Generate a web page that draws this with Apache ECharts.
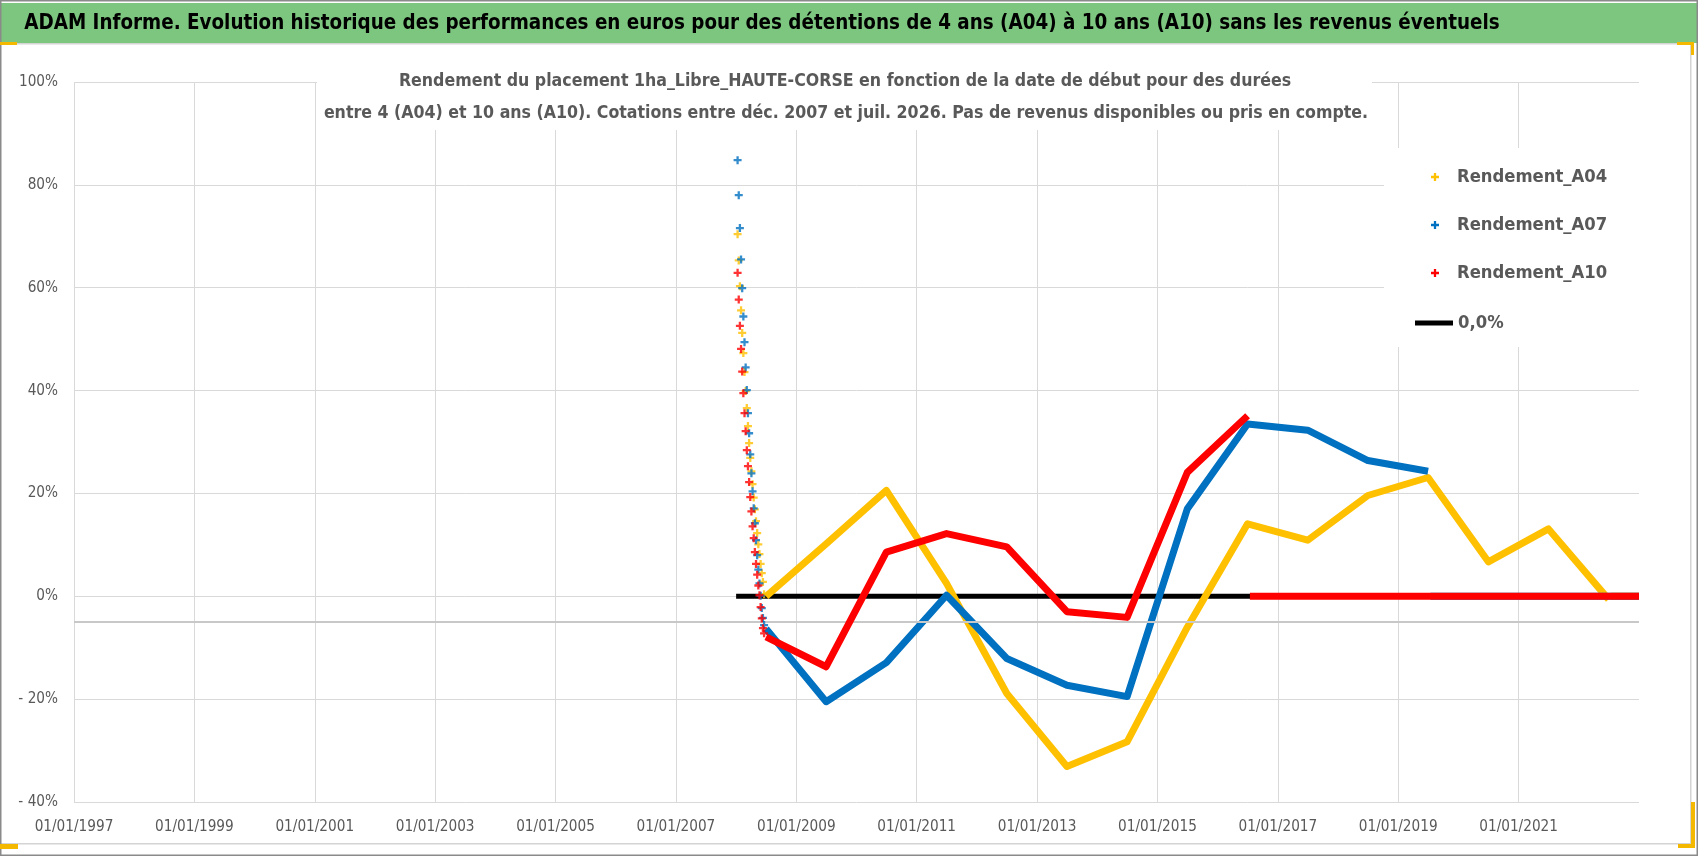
<!DOCTYPE html>
<html>
<head>
<meta charset="utf-8">
<script src="https://cdn.jsdelivr.net/npm/echarts@6/dist/echarts.min.js"></script>
<style>
html, body { margin: 0; padding: 0; background: #fff; }
#chart { width: 1698px; height: 856px; }
</style>
</head>
<body>
<div id="chart"></div>
<script>
var chart = echarts.init(document.getElementById('chart'));

// --- data (values in %) ---
var baseYear = 1997;
var endDate = '2023-01-01';
var xTickYears = 2;

// early-2008 start dates, one point per week
var spikeDates = [
    '2008-01-10', '2008-01-17', '2008-01-24', '2008-01-31', '2008-02-07', '2008-02-14',
    '2008-02-21', '2008-02-28', '2008-03-06', '2008-03-13', '2008-03-20', '2008-03-27',
    '2008-04-03', '2008-04-10', '2008-04-17', '2008-04-24', '2008-05-01', '2008-05-08',
    '2008-05-15', '2008-05-22', '2008-05-29', '2008-06-05', '2008-06-12', '2008-06-19'
];
var spikeA04 = [70.4, 65.3, 60.3, 55.6, 51.2, 47.3, 43.6, 39.9, 36.6, 33.1, 29.8, 26.9,
    24.3, 21.8, 19.2, 16.9, 14.6, 12.3, 10.1, 8.2, 6.3, 4.5, 2.8, 0.4];
var spikeA07 = [84.8, 78.0, 71.6, 65.5, 59.9, 54.4, 49.4, 44.5, 40.1, 35.6, 31.7, 27.6,
    23.9, 20.4, 17.1, 14.2, 10.9, 8.0, 5.2, 2.5, 0.1, -2.3, -4.2, -5.6];
var spikeA10 = [62.9, 57.7, 52.6, 48.1, 43.7, 39.5, 35.6, 32.1, 28.4, 25.3, 22.2, 19.3,
    16.5, 13.6, 11.3, 8.6, 6.3, 4.2, 2.1, 0.2, -2.1, -4.3, -6.2, -7.2];

// yearly start dates after the spike
var yearDates = ['2008-07-01', '2009-07-01', '2010-07-01', '2011-07-01', '2012-07-01',
    '2013-07-01', '2014-07-01', '2015-07-01', '2016-07-01', '2017-07-01', '2018-07-01',
    '2019-07-01', '2020-07-01', '2021-07-01', '2022-07-01'];
var rendA04 = [0.0, 10.2, 20.6, 2.5, -18.9, -33.1, -28.3, -6.0, 14.1, 10.9, 19.6, 23.1, 6.7, 13.1, -0.6];
var rendA07 = [-6.3, -20.5, -12.9, 0.2, -12.1, -17.3, -19.5, 17.0, 33.5, 32.3, 26.4, 24.3];
var rendA10 = [-7.9, -13.7, 8.6, 12.2, 9.6, -3.0, -4.1, 24.1, 35.1];

// after the last available end date the yield is shown as 0
var zeroFromA04 = '2022-07-15';
var zeroFromA07 = '2019-07-15';
var zeroFromA10 = '2016-07-15';

var refLineDates = ['2008-01-01', endDate];
var refLineValue = 0;
var axisCross = -5;

var names = ['Rendement_A04', 'Rendement_A07', 'Rendement_A10', '0,0%'];
var colors = ['#ffc000', '#0070c0', '#ff0000', '#000000'];

// --- helpers ---
function toX(s) {
    var p = s.split('-').map(Number);
    var t0 = Date.UTC(p[0], 0, 1), t1 = Date.UTC(p[0] + 1, 0, 1);
    return p[0] - baseYear + (Date.UTC(p[0], p[1] - 1, p[2]) - t0) / (t1 - t0);
}
function spikeData(vals) {
    return vals.map(function (v, i) { return [toX(spikeDates[i]), v]; });
}
function lineData(vals, zeroFrom) {
    var d = vals.map(function (v, i) { return [toX(yearDates[i]), v]; });
    d.push([toX(zeroFrom), '-']);
    d.push([toX(zeroFrom), 0]);
    d.push([toX(endDate), 0]);
    return d;
}
var fam = "'Liberation Sans Narrow', 'DejaVu Sans Condensed', Roboto, sans-serif";
var ctx = document.createElement('canvas').getContext('2d');
function fit(text, weight, target) {
    ctx.font = weight + ' 100px ' + fam;
    return Math.round(1000 * target / ctx.measureText(text).width) / 10;
}

var titleText = 'ADAM Informe. Evolution historique des performances en euros pour des détentions de 4 ans (A04) à 10 ans (A10) sans les revenus éventuels';
var sub1 = 'Rendement du placement 1ha_Libre_HAUTE-CORSE en fonction de la date de début pour des durées';
var sub2 = 'entre 4 (A04) et 10 ans (A10). Cotations entre déc. 2007 et juil. 2026. Pas de revenus disponibles ou pris en compte.';

var titleSize = fit(titleText, 'bold', 1474);
var subSize = fit(sub2, 'bold', 1042);
var legendSize = fit('Rendement_A04', 'bold', 150);
var axisSize = fit('01/01/1997', 'normal', 79);

var plus = 'path://M3,0H5.4V3H8.4V5.4H5.4V8.4H3V5.4H0V3H3Z';
var yellowHandle = '#f5b800';

function spikeSeries(i, vals) {
    return {
        name: names[i], type: 'scatter', data: spikeData(vals),
        symbol: plus, symbolSize: 8, z: 6 + i,
        itemStyle: { color: colors[i] }, silent: true
    };
}
function lineSeries(i, vals, zeroFrom) {
    return {
        name: names[i], type: 'line', data: lineData(vals, zeroFrom),
        showSymbol: false, symbol: 'none', connectNulls: false, z: 3 + i,
        lineStyle: { color: colors[i], width: 7, cap: 'butt', join: 'round' },
        itemStyle: { color: colors[i] }, silent: true
    };
}

var option = {
    animation: false,
    grid: { left: 74, right: 59, top: 82, bottom: 54 },
    xAxis: {
        type: 'value', min: 0, max: toX(endDate), interval: xTickYears,
        axisLine: { show: false }, axisTick: { show: false },
        splitLine: { show: true, showMaxLine: false, lineStyle: { color: '#d9d9d9', width: 1 } },
        axisLabel: {
            margin: 18, color: '#595959', fontSize: axisSize, fontFamily: fam, showMaxLabel: false,
            formatter: function (v) { return '01/01/' + (baseYear + v); }
        }
    },
    yAxis: {
        type: 'value', min: -40, max: 100, interval: 20,
        axisLine: { show: false }, axisTick: { show: false },
        splitLine: { show: true, lineStyle: { color: '#d9d9d9', width: 1 } },
        axisLabel: {
            margin: 16, color: '#595959', fontSize: axisSize, fontFamily: fam,
            formatter: function (v) { return v < 0 ? '- ' + (-v) + '%' : v + '%'; }
        }
    },
    legend: [
        {
            data: names.slice(0, 3), orient: 'vertical', left: 1426, top: 163,
            itemGap: 30, itemWidth: 8, itemHeight: 8, icon: plus, selectedMode: false,
            itemStyle: { borderWidth: 0 },
            textStyle: { fontSize: legendSize, fontWeight: 'bold', color: '#595959', fontFamily: fam, padding: [0, 0, 0, 13] }
        },
        {
            data: [names[3]], orient: 'vertical', left: 1410, top: 309,
            itemWidth: 38, itemHeight: 5, icon: 'rect', selectedMode: false,
            itemStyle: { borderWidth: 0 },
            textStyle: { fontSize: legendSize, fontWeight: 'bold', color: '#595959', fontFamily: fam }
        }
    ],
    graphic: [
        { type: 'rect', shape: { x: 0, y: 3, width: 1698, height: 40 }, style: { fill: '#7dc67f' }, z: 0 },
        { type: 'rect', shape: { x: 0, y: 43, width: 1691, height: 1.5 }, style: { fill: '#d4d4d4' }, z: 0 },
        { type: 'rect', shape: { x: 0, y: 843, width: 1691, height: 1.5 }, style: { fill: '#d4d4d4' }, z: 0 },
        { type: 'rect', shape: { x: 1690, y: 43, width: 1.5, height: 801 }, style: { fill: '#d4d4d4' }, z: 0 },
        { type: 'rect', shape: { x: 0.75, y: 0.75, width: 1696.5, height: 854.5 }, style: { fill: null, stroke: '#8a8a8a', lineWidth: 1.5 }, z: 0 },
        { type: 'rect', shape: { x: 0, y: 42, width: 17, height: 3 }, style: { fill: yellowHandle }, z: 1 },
        { type: 'rect', shape: { x: 0, y: 844, width: 18, height: 5 }, style: { fill: yellowHandle }, z: 1 },
        { type: 'rect', shape: { x: 1677, y: 42, width: 17, height: 3 }, style: { fill: yellowHandle }, z: 1 },
        { type: 'rect', shape: { x: 1691, y: 42, width: 3, height: 13 }, style: { fill: yellowHandle }, z: 1 },
        { type: 'rect', shape: { x: 1691, y: 802, width: 4, height: 46 }, style: { fill: yellowHandle }, z: 1 },
        { type: 'rect', shape: { x: 1678, y: 844, width: 17, height: 4 }, style: { fill: yellowHandle }, z: 1 },
        { type: 'rect', shape: { x: 317, y: 66, width: 1055, height: 64 }, style: { fill: '#fff' }, z: 3 },
        { type: 'rect', shape: { x: 1384, y: 148, width: 256, height: 199 }, style: { fill: '#fff' }, z: 3 },
        {
            type: 'text', x: 762, y: 24, z: 5,
            style: { text: titleText, fill: '#000', font: 'bold ' + titleSize + 'px ' + fam, textAlign: 'center', textVerticalAlign: 'middle' }
        },
        {
            type: 'text', x: 845, y: 81, z: 5,
            style: { text: sub1, fill: '#595959', font: 'bold ' + subSize + 'px ' + fam, textAlign: 'center', textVerticalAlign: 'middle' }
        },
        {
            type: 'text', x: 846, y: 113, z: 5,
            style: { text: sub2, fill: '#595959', font: 'bold ' + subSize + 'px ' + fam, textAlign: 'center', textVerticalAlign: 'middle' }
        }
    ],
    series: [
        {
            name: names[3], type: 'line', z: 2, silent: true,
            data: refLineDates.map(function (d) { return [toX(d), refLineValue]; }),
            showSymbol: false, symbol: 'none',
            lineStyle: { color: colors[3], width: 5, cap: 'butt' },
            itemStyle: { color: colors[3] },
            markLine: {
                silent: true, symbol: 'none', label: { show: false },
                lineStyle: { color: '#c8c8c8', width: 2, type: 'solid' },
                data: [{ yAxis: axisCross }]
            }
        },
        lineSeries(0, rendA04, zeroFromA04),
        lineSeries(1, rendA07, zeroFromA07),
        lineSeries(2, rendA10, zeroFromA10),
        spikeSeries(0, spikeA04),
        spikeSeries(1, spikeA07),
        spikeSeries(2, spikeA10)
    ]
};

chart.setOption(option);
</script>
</body>
</html>
